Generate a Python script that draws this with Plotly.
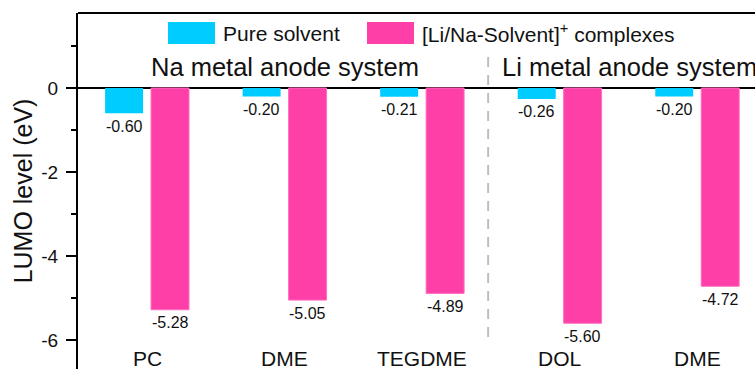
import plotly.graph_objects as go

# LUMO levels (eV) of pure solvents and of their Li/Na-solvent cation complexes
solvents = ["PC", "DME", "TEGDME", "DOL", "DME"]
pure_solvent = [-0.60, -0.20, -0.21, -0.26, -0.20]
complexes = [-5.28, -5.05, -4.89, -5.60, -4.72]
y_ticks = [0, -2, -4, -6]

FONT = "Arial, Liberation Sans, sans-serif"
CYAN = "#00CCFF"
PINK = "#FF3FA8"

x_idx = list(range(len(solvents)))
bar_w = 0.276

fig = go.Figure()
fig.add_trace(go.Bar(
    x=x_idx, y=pure_solvent, width=bar_w, offset=-0.305,
    marker=dict(color=CYAN, line=dict(width=0)), name="Pure solvent",
))
fig.add_trace(go.Bar(
    x=x_idx, y=complexes, width=bar_w, offset=0.029,
    marker=dict(color=PINK, line=dict(color="#FF6EC0", width=1)),
    name="[Li/Na-Solvent]<sup>+</sup> complexes",
))

annotations = []
# value labels under each bar end
for i in x_idx:
    for xc, val in ((i - 0.167, pure_solvent[i]), (i + 0.167, complexes[i])):
        annotations.append(dict(
            x=xc, y=val, xref="x", yref="y", text=f"{val:.2f}",
            showarrow=False, yshift=-13, font=dict(family=FONT, size=16, color="#111"),
        ))
# solvent names along the bottom
for i, name in enumerate(solvents):
    annotations.append(dict(
        x=i, y=-6.43, xref="x", yref="y", text=name, showarrow=False,
        font=dict(family=FONT, size=21, color="#111"),
    ))
# system headings
annotations.append(dict(
    x=1, y=0.49, xref="x", yref="y", text="Na metal anode system", showarrow=False,
    font=dict(family=FONT, size=25.5, color="#111"),
))
annotations.append(dict(
    x=2.567, y=0.49, xref="x", yref="y", text="Li metal anode system", showarrow=False,
    xanchor="left", font=dict(family=FONT, size=25.5, color="#111"),
))

# hand-drawn legend row
legend_items = [("Pure solvent", CYAN, 168), ("[Li/Na-Solvent]<sup>+</sup> complexes", PINK, 367)]
shapes = []
W, H, L, T = 755, 369, 78, 13
pw, ph = W - L, H - T
for label, color, px in legend_items:
    shapes.append(dict(
        type="rect", xref="paper", yref="paper",
        x0=(px - L) / pw, x1=(px + 47 - L) / pw,
        y0=(H - 44) / ph, y1=(H - 22) / ph,
        fillcolor=color, line=dict(width=0),
    ))
    annotations.append(dict(
        x=(px + 53 - L) / pw, y=(H - 33) / ph, xref="paper", yref="paper",
        text=label, showarrow=False, xanchor="left", yanchor="middle",
        font=dict(family=FONT, size=21, color="#111"),
    ))

# top frame line
shapes.append(dict(type="line", xref="paper", yref="paper", x0=0, x1=1, y0=1, y1=1,
                   line=dict(color="black", width=2)))
# dashed divider between Na and Li systems
shapes.append(dict(type="line", xref="x", yref="y", x0=2.48, x1=2.48, y0=0.74, y1=-6.05,
                   line=dict(color="#BDBDBD", width=2, dash="10px,8px")))

fig.update_layout(
    width=W, height=H,
    margin=dict(l=L, r=0, t=T, b=0),
    paper_bgcolor="white", plot_bgcolor="white",
    barmode="overlay", showlegend=False,
    annotations=annotations, shapes=shapes,
    font=dict(family=FONT, color="#111"),
    xaxis=dict(range=[-0.502, 4.42], showgrid=False, zeroline=False,
               showticklabels=False, ticks="", showline=False),
    yaxis=dict(
        range=[-6.69, 1.786], tickvals=y_ticks, ticktext=[str(v) for v in y_ticks],
        showgrid=False, zeroline=True, zerolinecolor="black", zerolinewidth=2,
        showline=True, linecolor="black", linewidth=2,
        ticks="outside", ticklen=10, tickwidth=2, tickcolor="black",
        minor=dict(dtick=1, tick0=0, ticks="outside", ticklen=5, tickwidth=2, tickcolor="black"),
        tickfont=dict(family=FONT, size=19, color="#111"), ticklabelstandoff=4,
        title=dict(text="LUMO level (eV)", font=dict(family=FONT, size=25, color="#111"), standoff=2),
    ),
)

fig.write_html("out.html")
